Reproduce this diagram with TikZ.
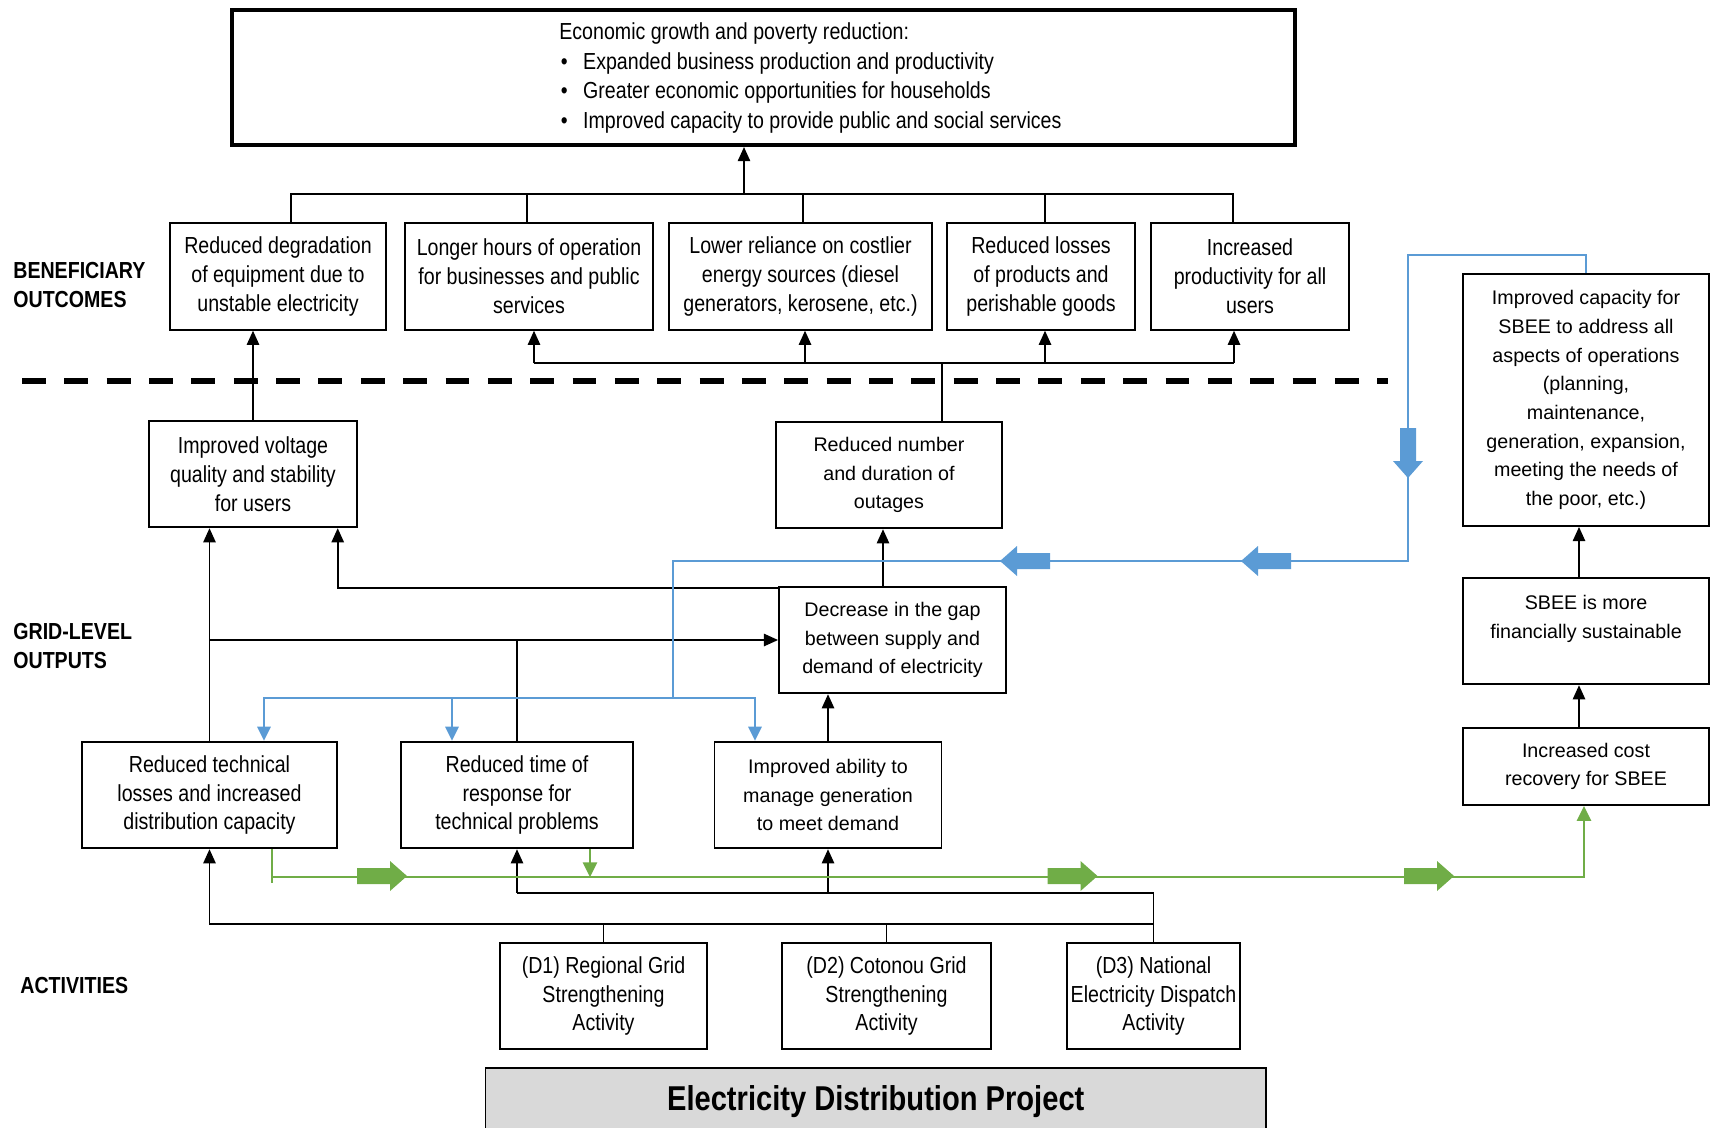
\documentclass[tikz,border=0pt]{standalone}
\usepackage{fontspec}
\setmainfont{Liberation Sans}
\newfontfamily\narrowfont[FakeStretch=0.845]{Liberation Sans}
\usepackage{tikz}
\usetikzlibrary{arrows.meta, positioning}
\definecolor{flowblue}{HTML}{5B9BD5}
\definecolor{flowgreen}{HTML}{70AD47}
\definecolor{projgray}{HTML}{D9D9D9}
\tikzstyle{block} = [draw, rectangle, line width=1.1pt, align=center, inner sep=0pt, minimum height=21.3mm, font=\narrowfont\fontsize{13.2}{16.4}\selectfont]
\tikzstyle{wideblock} = [block, font=\fontsize{11.2}{16.3}\selectfont]
\tikzstyle{tierlabel} = [anchor=west, align=left, inner sep=0pt, font=\narrowfont\bfseries\fontsize{13.2}{16.4}\selectfont]
\tikzstyle{link} = [line width=0.9pt]
\tikzstyle{wire} = [-{Triangle[width=7pt,length=8pt]}, line width=0.9pt]
\tikzstyle{blueline} = [flowblue, line width=1.4pt]
\tikzstyle{bluewire} = [blueline, -{Triangle[width=7.5pt,length=8pt]}]
\tikzstyle{greenline} = [flowgreen, line width=1.4pt]
\tikzstyle{greenwire} = [greenline, -{Triangle[width=8pt,length=8.5pt]}]
\tikzset{fatarrow/.pic={\fill (0,-8) -- (33,-8) -- (33,-15) -- (50,0) -- (33,15) -- (33,8) -- (0,8) -- cycle;}}

\begin{document}
\begin{tikzpicture}[x=0.2mm, y=-0.2mm]
    \useasboundingbox (0,0) rectangle (1711,1127);
    % goal
    \node[draw, line width=2.3pt, minimum width=212.6mm, minimum height=27mm] (goal) at (763.5,77.5) {};
    \node[anchor=west, align=left, inner sep=0pt, font=\narrowfont\fontsize{13.2}{16.9}\selectfont] (goaltext) at (559,78) {Economic growth and poverty reduction:\\
      \hspace*{0.3mm}\textbullet\hspace{3.1mm}Expanded business production and productivity\\
      \hspace*{0.3mm}\textbullet\hspace{3.1mm}Greater economic opportunities for households\\
      \hspace*{0.3mm}\textbullet\hspace{3.1mm}Improved capacity to provide public and social services};

    \node[tierlabel] (bentier) at (13,285) {BENEFICIARY\\OUTCOMES};
    \node[tierlabel] (gridtier) at (13,646) {GRID-LEVEL\\OUTPUTS};
    \node[tierlabel] (acttier) at (20,985) {ACTIVITIES};

    % beneficiary outcomes
    \node[block, minimum width=43.2mm] (b1) at (278,276.5) {Reduced degradation\\of equipment due to\\unstable electricity};
    \node[block, minimum width=49.6mm, right of=b1, node distance=50.2mm] (b2) {Longer hours of operation\\for businesses and public\\services};
    \node[block, minimum width=52.6mm, right of=b2, node distance=54.3mm] (b3) {Lower reliance on costlier\\energy sources (diesel\\generators, kerosene, etc.)};
    \node[block, minimum width=37.6mm, right of=b3, node distance=48.1mm] (b4) {Reduced losses\\of products and\\perishable goods};
    \node[block, minimum width=39.6mm, right of=b4, node distance=41.8mm] (b5) {Increased\\productivity for all\\users};

    \draw[line width=3pt, dash pattern=on 13.6pt off 10.5pt] (22,381) -- (1388,381);

    % grid-level outputs
    \node[block, minimum width=41.5mm] (iv) at (253,474) {Improved voltage\\quality and stability\\for users};
    \node[wideblock, minimum width=45.2mm] (rn) at (889,475) {Reduced number\\and duration of\\outages};
    \node[wideblock, minimum width=45.4mm] (dg) at (892.5,640) {Decrease in the gap\\between supply and\\demand of electricity};
    \node[block, minimum width=51mm] (rt) at (209.5,795) {Reduced technical\\losses and increased\\distribution capacity};
    \node[block, minimum width=46.3mm, right of=rt, node distance=61.5mm] (rtime) {Reduced time of\\response for\\technical problems};
    \node[wideblock, minimum width=45.4mm, right of=rtime, node distance=62.2mm] (ia) {Improved ability to\\manage generation\\to meet demand};

    % activities
    \node[block, minimum width=41.4mm] (a1) at (603.5,996) {(D1) Regional Grid\\Strengthening\\Activity};
    \node[block, minimum width=41.8mm, right of=a1, node distance=56.6mm] (a2) {(D2) Cotonou Grid\\Strengthening\\Activity};
    \node[block, minimum width=34.6mm, right of=a2, node distance=53.4mm] (a3) {(D3) National\\Electricity Dispatch\\Activity};
    \node[block, fill=projgray, minimum width=156.1mm, minimum height=13.4mm, font=\narrowfont\bfseries\fontsize{19.6}{23}\selectfont] (proj) at (875.75,1101.5) {Electricity Distribution Project};

    % SBEE column
    \node[wideblock, minimum width=49.2mm, minimum height=50.4mm] (cap) at (1586,400) {Improved capacity for\\SBEE to address all\\aspects of operations\\(planning,\\maintenance,\\generation, expansion,\\meeting the needs of\\the poor, etc.)};
    \node[wideblock, minimum width=49.2mm] (fs) at (1586,631) {SBEE is more\\financially sustainable\\\mbox{}};
    \node[wideblock, minimum width=49.2mm, minimum height=15.4mm] (ic) at (1586,766.5) {Increased cost\\recovery for SBEE};

    % black links
    \coordinate (upfork) at (744,194);
    \draw[wire] (upfork) -- (upfork |- goal.south);
    \draw[link] ([xshift=2.6mm]b1.north) |- (upfork) -| ([xshift=-3.4mm]b5.north);
    \foreach \bx/\sh in {b2/-0.4mm, b3/0.5mm, b4/0.8mm} {
      \coordinate (\bx-up) at ([xshift=\sh]\bx.north);
      \draw[link] (\bx-up) -- (\bx-up |- upfork);
    }
    \coordinate (rn-top) at ([xshift=10.6mm]rn.north);
    \coordinate (outfork) at ([yshift=11.5mm]rn-top);
    \draw[link] (rn-top) -- (outfork);
    \foreach \bx/\sh in {b2/1mm, b3/0.9mm, b4/0.8mm, b5/-3.2mm} {
      \coordinate (\bx-in) at ([xshift=\sh]\bx.south);
      \draw[wire] (\bx-in |- outfork) -- (\bx-in);
    }
    \draw[link] (b2-in |- outfork) -- (b5-in |- outfork);

    \draw[wire] (iv.north) -- (iv.north |- b1.south);
    \coordinate (dg-up) at ([xshift=-1.9mm]dg.north);
    \draw[wire] (dg-up) -- (dg-up |- rn.south);
    \coordinate (iv-in) at ([xshift=-4mm]iv.south east);
    \draw[wire] ([yshift=-0.4mm]dg.north west) -| (iv-in);
    \draw[wire] (rt.north) -- (rt.north |- iv.south);
    \draw[wire] (rt.north |- dg.west) -- (dg.west);
    \draw[link] (rtime.north) -- (rtime.north |- dg.west);
    \draw[wire] (ia.north) -- (ia.north |- dg.south);

    \coordinate (d3fork) at ([yshift=9.76mm]a3.north);
    \draw[link] (a3.north) -- (d3fork) -- (d3fork -| rtime.south);
    \draw[wire] (d3fork -| rtime.south) -- (rtime.south);
    \draw[wire] (d3fork -| ia.south) -- (ia.south);
    \coordinate (d12fork) at ([yshift=3.56mm]a1.north);
    \draw[wire] (d12fork -| a3.north) -| (rt.south);
    \draw[link] (a1.north) -- (d12fork);
    \draw[link] (a2.north) -- (a2.north |- d12fork);

    \coordinate (fs-top) at ([xshift=-1.4mm]fs.north);
    \coordinate (ic-top) at ([xshift=-1.4mm]ic.north);
    \draw[wire] (fs-top) -- (fs-top |- cap.south);
    \draw[wire] (ic-top) -- (ic-top |- fs.south);

    % blue feedback
    \coordinate (bluetop) at ([yshift=3.6mm]cap.north);
    \coordinate (bluecorner) at (1408,561);
    \coordinate (bluedrop) at (673,561);
    \coordinate (bluefork) at (673,698);
    \draw[blueline] (cap.north) -- (bluetop) -| (bluecorner) -- (bluedrop) -- (bluefork);
    \coordinate (rt-in) at ([xshift=10.9mm]rt.north);
    \coordinate (rtime-in) at ([xshift=-13mm]rtime.north);
    \coordinate (ia-in) at ([xshift=-14.6mm]ia.north);
    \foreach \tgt in {rt-in, rtime-in, ia-in}
      \draw[bluewire] (bluefork) -| (\tgt);
    \pic[flowblue, xscale=-1] at (1050,561) {fatarrow};
    \pic[flowblue, xscale=-1] at (1291,561) {fatarrow};
    \pic[flowblue, rotate=-90] at (1408,428) {fatarrow};

    % green flow
    \coordinate (rt-out) at ([xshift=12.5mm]rt.south);
    \coordinate (greenrun) at ([yshift=-5.6mm]rt-out);
    \coordinate (ic-in) at ([xshift=-0.4mm]ic.south);
    \draw[greenline] (rt-out) -- ([yshift=-6.8mm]rt-out);
    \draw[greenwire] (greenrun) -| (ic-in);
    \coordinate (rtime-out) at ([xshift=14.6mm]rtime.south);
    \draw[greenwire] (rtime-out) -- (rtime-out |- greenrun);
    \foreach \x in {357, 1047.5, 1404}
      \pic[flowgreen] at (\x,876) {fatarrow};
\end{tikzpicture}
\end{document}
